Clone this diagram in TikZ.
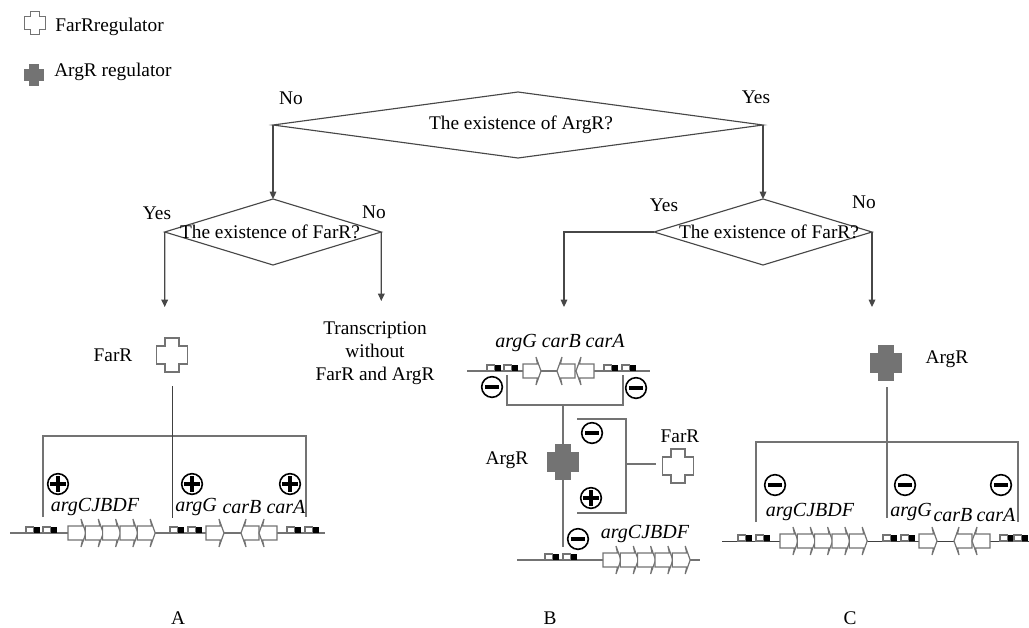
\documentclass[tikz,border=0pt]{standalone}
\usepackage{fontspec}
\setmainfont{Liberation Serif}
\usetikzlibrary{shapes.geometric,arrows.meta}
\tikzset{
  pics/genefwd/.style={code={
    \draw[wire, fill=white] (0,-7) -- (14.5,-7) -- (13,-14) -- (18,0) -- (13,14) -- (14.5,7) -- (0,7) -- cycle;
  }},
  pics/promoter/.style={code={
    \draw[wire, fill=white] (0,-6) rectangle (7.5,0);
    \fill[black] (7.5,-6) rectangle (14,0);
  }},
  wire/.style={draw=black!55, line width=0.9pt},
  flow/.style={draw=black!72, line width=0.85pt},
  thin wire/.style={draw=black!75, line width=0.6pt},
  decide/.style={diamond, draw=black!72, line width=0.85pt, inner sep=0pt, outer sep=0pt, shape aspect=3.3},
  regslot/.style={rectangle, inner sep=0pt, outer sep=0pt, minimum width=24pt, minimum height=26pt},
  genelabel/.style={font=\fontsize{15}{17}\selectfont\itshape},
  signnode/.style={circle, draw=black, line width=1.2pt, inner sep=0pt, minimum size=15.5pt, fill=white},
  signminus/.style={signnode, path picture={
    \fill[black] ([xshift=-5.2pt,yshift=-1.6pt]path picture bounding box.center) rectangle ([xshift=5.2pt,yshift=1.6pt]path picture bounding box.center);
  }},
  signplus/.style={signnode, path picture={
    \fill[black] ([xshift=-6pt,yshift=-1.3pt]path picture bounding box.center) rectangle ([xshift=6pt,yshift=1.3pt]path picture bounding box.center);
    \fill[black] ([xshift=-1.3pt,yshift=-6pt]path picture bounding box.center) rectangle ([xshift=1.3pt,yshift=6pt]path picture bounding box.center);
  }},
}
% cross shape round a named slot
\newcommand{\regcross}[4]{%
  \node[regslot, scale=#4] (#1) at (#2) {};
  \draw[wire, #3, scale=#4, shift={(#1.center)}]
    (-7,-17) -- (7,-17) -- (7,-9) -- (15.5,-9) -- (15.5,9) -- (7,9) -- (7,17) -- (-7,17)
    -- (-7,9) -- (-15.5,9) -- (-15.5,-9) -- (-7,-9) -- cycle;
}
\begin{document}
\begin{tikzpicture}[
    x=0.75pt, y=-0.75pt, >={Stealth[length=5.5pt,width=5pt,inset=0pt]},
    every node/.style={font=\fontsize{14.5}{17}\selectfont}
  ]
  \useasboundingbox (0,0) rectangle (1029,628);

  % legend
  \regcross{legfar}{35,23}{fill=white}{0.68}
  \regcross{legarg}{34,75}{fill=black!55}{0.6}
  \node[anchor=west, inner sep=0pt] (legfartext) at (55,27) {FarRregulator};
  \node[anchor=west, inner sep=0pt] (legargtext) at (54,72) {ArgR regulator};

  % decisions
  \node[decide, minimum width=367.5pt, minimum height=49.5pt] (main) at (518,125) {\makebox[0pt]{\hspace{4.5pt}The existence of ArgR?}};
  \node[decide, minimum width=162.4pt, minimum height=49.5pt] (farleft) at (273,232) {\makebox[0pt]{The existence of FarR?\hspace{4.5pt}}};
  \node[decide, minimum width=163.5pt, minimum height=49.5pt] (farright) at (763,232) {\makebox[0pt]{\hspace{9pt}The existence of FarR?}};
  \coordinate (aend) at (164.7,307);
  \coordinate (tend) at (381.3,301);
  \coordinate (bend) at (564,307);
  \coordinate (cend) at (872,307);
  \draw[flow, ->] (main.west) -- (farleft.north);
  \draw[flow, ->] (main.east) -- (farright.north);
  \draw[flow, ->] (farleft.west) -- (aend);
  \draw[flow, ->] (farleft.east) -- (tend);
  \draw[flow, ->] (farright.west) -| (bend);
  \draw[flow, ->] (farright.east) -- (cend);
  \node (no1) at (291,98) {No};
  \node (yes1) at (756,97) {Yes};
  \node (yes2) at (157,213) {Yes};
  \node (no2) at (374,212) {No};
  \node (yes3) at (664,205) {Yes};
  \node (no3) at (864,202) {No};
  \node[align=center, font=\fontsize{14.5}{17.25}\selectfont] (trans) at (375,353) {Transcription\\without\\FarR and ArgR};

  % case A
  \node (farA) at (113,355) {FarR};
  \regcross{crossA}{172,355}{fill=white}{1}
  \coordinate (aline1) at (10,533);
  \coordinate (aline2) at (325,533);
  \draw[wire] (aline1) -- (aline2);
  \foreach \x in {26,43,170,188,287,305} \pic at (\x,533) {promoter};
  \foreach \x in {68,85.3,102.6,119.9,137.2,206} \pic at (\x,533) {genefwd};
  \foreach \x in {259,277} \pic[xscale=-1] at (\x,533) {genefwd};
  \coordinate (atop) at (172,386);
  \coordinate (amid) at (172,436);
  \coordinate (abot) at (172,518);
  \coordinate (aleft) at (43,517);
  \coordinate (aright) at (306,517);
  \draw[wire] (aleft) |- (amid) -| (aright);
  \draw[thin wire] (atop) -- (abot);
  \foreach \n/\x in {a1/58,a2/192,a3/290} \node[signplus] (sign\n) at (\x,484) {};
  \node[genelabel] (gA1) at (95,507) {argCJBDF};
  \node[genelabel] (gA2) at (196,507) {argG};
  \node[genelabel] (gA3) at (242,507) {carB};
  \node[genelabel] (gA4) at (286,507) {carA};

  % case B
  \coordinate (bline1) at (467,371);
  \coordinate (bline2) at (650,371);
  \draw[wire] (bline1) -- (bline2);
  \foreach \x in {487,504,604,622} \pic at (\x,371) {promoter};
  \pic at (523,371) {genefwd};
  \foreach \x in {575,594} \pic[xscale=-1] at (\x,371) {genefwd};
  \node[genelabel] (gB1) at (560,343) {argG carB carA};
  \node[signminus] (signb1) at (492,387) {};
  \node[signminus] (signb2) at (636,388) {};
  \coordinate (bl) at (507,375);
  \coordinate (br) at (623,375);
  \coordinate (bm) at (563,405);
  \coordinate (bdown) at (563,547);
  \draw[wire] (bl) |- (bm) -| (br);
  \regcross{crossB}{563,462}{fill=black!55}{1}
  \draw[wire] (bm) -- (crossB);
  \draw[wire] (crossB) -- (bdown);
  \regcross{crossBfar}{678,466}{fill=white}{1}
  \coordinate (bb1) at (577,419);
  \coordinate (bb2) at (626,419);
  \coordinate (bb3) at (626,513);
  \coordinate (bb4) at (577,513);
  \coordinate (bb5) at (626,464);
  \coordinate (bb6) at (656,464);
  \draw[wire] (bb1) -- (bb2) -- (bb3) -- (bb4);
  \draw[wire] (bb5) -- (bb6);
  \node[signminus] (signb3) at (592,433) {};
  \node[signplus] (signb4) at (591,498) {};
  \node (argB) at (507,460) {ArgR};
  \node (farB) at (680,436) {FarR};
  \coordinate (bline3) at (517,560);
  \coordinate (bline4) at (700,560);
  \draw[wire] (bline3) -- (bline4);
  \foreach \x in {545,563} \pic at (\x,560) {promoter};
  \foreach \x in {603,620.3,637.6,654.9,672.2} \pic at (\x,560) {genefwd};
  \node[signminus] (signb5) at (578,539) {};
  \node[genelabel] (gB2) at (645,534) {argCJBDF};

  % case C
  \regcross{crossC}{886,363}{fill=black!55}{1}
  \node (argC) at (947,359) {ArgR};
  \coordinate (ctop) at (887,387);
  \coordinate (cmid) at (887,442);
  \coordinate (cbot) at (887,518);
  \coordinate (cleft) at (756,522);
  \coordinate (cright) at (1018,522);
  \draw[wire] (cleft) |- (cmid) -| (cright);
  \draw[wire] (ctop) -- (cbot);
  \coordinate (cline1) at (722,541);
  \coordinate (cline2) at (1029,541);
  \draw[thin wire] (cline1) -- (cline2);
  \foreach \x in {738,756,883,901,1000,1014} \pic at (\x,541) {promoter};
  \foreach \x in {780,797.3,814.6,831.9,849.2,919} \pic at (\x,541) {genefwd};
  \foreach \x in {972,990} \pic[xscale=-1] at (\x,541) {genefwd};
  \foreach \n/\x in {c1/775,c2/905,c3/1001} \node[signminus] (sign\n) at (\x,485) {};
  \node[genelabel] (gC1) at (810,512) {argCJBDF};
  \node[genelabel] (gC2) at (911,512) {argG};
  \node[genelabel] (gC3) at (953,515) {carB};
  \node[genelabel] (gC4) at (996,515) {carA};

  % panel letters
  \node[inner sep=0pt] (panA) at (178,618) {A};
  \node[inner sep=0pt] (panB) at (550,618) {B};
  \node[inner sep=0pt] (panC) at (850,618) {C};
\end{tikzpicture}
\end{document}
